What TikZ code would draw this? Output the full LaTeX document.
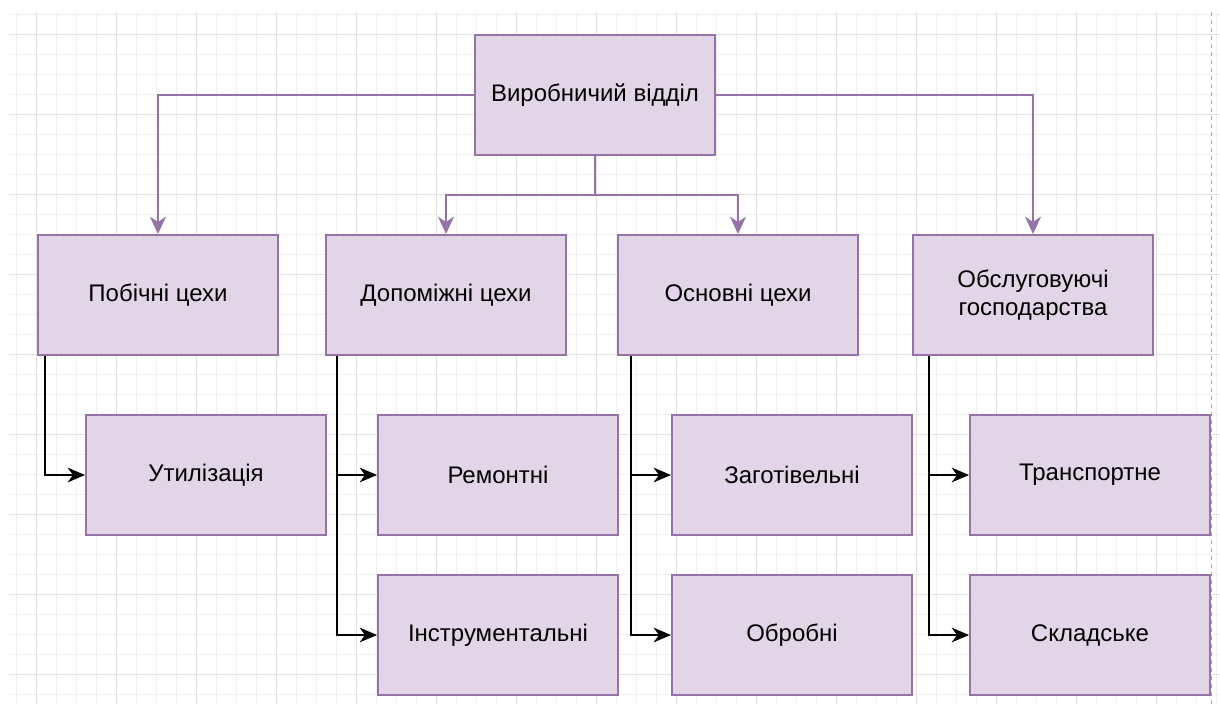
\documentclass[tikz,border=0pt]{standalone}
\usepackage{fontspec}
\setmainfont{Liberation Sans}
\usepackage{xcolor}
\usetikzlibrary{arrows.meta, positioning}

\definecolor{boxfill}{HTML}{E1D5E7}
\definecolor{boxline}{HTML}{9673A6}
\definecolor{gridmajor}{HTML}{E2E2E2}
\definecolor{gridminor}{HTML}{F1F1F1}

\tikzset{
  unit/.style={draw=boxline, fill=boxfill, line width=1.5pt,
    minimum width=180pt, minimum height=90pt, align=center,
    inner sep=2pt, font=\fontsize{18}{21}\selectfont},
  mainlink/.style={draw=boxline, line width=1.5pt,
    -{Stealth[length=13pt, width=12pt, inset=4pt]}},
  sublink/.style={draw=black, line width=1.5pt,
    -{Stealth[length=13pt, width=11pt, inset=4pt]}}
}

\begin{document}
\begin{tikzpicture}[x=0.75pt, y=-0.75pt]
  \useasboundingbox (0,0) rectangle (1220,704);

  % background grid
  \begin{scope}[shift={(36,34)}]
    \draw[gridminor, line width=0.75pt, step=15pt] (-27,-22) grid (1184,670);
    \draw[gridmajor, line width=0.75pt, step=60pt] (-27,-22) grid (1184,670);
  \end{scope}
  \draw[gray!70, line width=0.75pt, dashed] (1211,12) -- (1211,704);

  % top level
  \node[unit] (prod) at (595,95) {Виробничий відділ};

  % second level
  \node[unit] (pob) at (158,295) {Побічні цехи};
  \node[unit] (dop) at (446,295) {Допоміжні цехи};
  \node[unit] (osn) at (738,295) {Основні цехи};
  \node[unit] (obs) at (1033,295) {Обслуговуючі\\господарства};

  % third level
  \node[unit] (util) at (206,475) {Утилізація};
  \node[unit] (rem)  at (498,475) {Ремонтні};
  \node[unit] (zag)  at (792,475) {Заготівельні};
  \node[unit] (trn)  at (1090,475) {Транспортне};

  % fourth level
  \node[unit] (instr) at (498,635) {Інструментальні};
  \node[unit] (obr)   at (792,635) {Обробні};
  \node[unit] (skl)   at (1090,635) {Складське};

  % links from the top box
  \coordinate (fork) at (595,195);
  \draw[mainlink] (prod.west) -| (pob.north);
  \draw[mainlink] (prod.east) -| (obs.north);
  \draw[boxline, line width=1.5pt] (prod.south) -- (fork);
  \draw[mainlink] (fork) -| (dop.north);
  \draw[mainlink] (fork) -| (osn.north);

  % links to the workshops
  \draw[sublink] (pob.south west) ++(8,0) |- (util.west);
  \draw[sublink] (dop.south west) ++(12,0) |- (rem.west);
  \draw[sublink] (dop.south west) ++(12,0) |- (instr.west);
  \draw[sublink] (osn.south west) ++(14,0) |- (zag.west);
  \draw[sublink] (osn.south west) ++(14,0) |- (obr.west);
  \draw[sublink] (obs.south west) ++(17,0) |- (trn.west);
  \draw[sublink] (obs.south west) ++(17,0) |- (skl.west);
\end{tikzpicture}
\end{document}
